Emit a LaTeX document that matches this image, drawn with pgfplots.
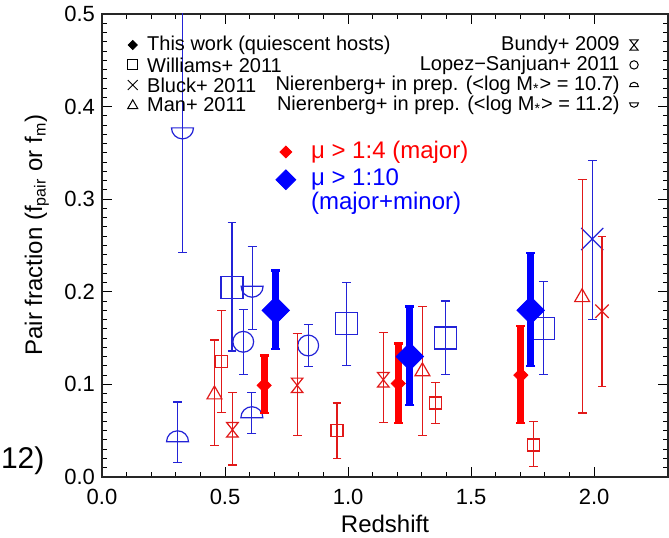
\documentclass[border=0pt]{standalone}
\usepackage{pgfplots}
\pgfplotsset{compat=1.18}
\usepackage{pgfplotstable}
\usepackage{fontspec}
\setmainfont{Liberation Sans}
\definecolor{tred}{RGB}{225,25,25}
\definecolor{tblue}{RGB}{35,35,215}
\definecolor{dred}{RGB}{255,0,0}
\definecolor{dblue}{RGB}{0,0,255}

\pgfdeclareplotmark{dome}{%
  \pgfpathmoveto{\pgfqpoint{-\pgfplotmarksize}{0pt}}%
  \pgfpatharc{180}{0}{\pgfplotmarksize}%
  \pgfpathclose
  \pgfusepathqstroke}
\pgfdeclareplotmark{bowl}{%
  \pgfpathmoveto{\pgfqpoint{-\pgfplotmarksize}{0pt}}%
  \pgfpatharc{180}{360}{\pgfplotmarksize}%
  \pgfpathclose
  \pgfusepathqstroke}
\pgfdeclareplotmark{hourglass}{%
  \pgfpathmoveto{\pgfqpoint{-.8\pgfplotmarksize}{\pgfplotmarksize}}%
  \pgfpathlineto{\pgfqpoint{.8\pgfplotmarksize}{\pgfplotmarksize}}%
  \pgfpathlineto{\pgfqpoint{-.8\pgfplotmarksize}{-\pgfplotmarksize}}%
  \pgfpathlineto{\pgfqpoint{.8\pgfplotmarksize}{-\pgfplotmarksize}}%
  \pgfpathclose
  \pgfusepathqstroke}

% Williams+ 2011, mu>1:10 (blue)
\pgfplotstableread{
z f ep em
0.528 0.205 0.070 0.069
0.995 0.166 0.044 0.046
1.395 0.150 0.040 0.039
1.794 0.160 0.051 0.049
}\williamsblue
% Williams+ 2011, mu>1:4 (red)
\pgfplotstableread{
z f ep em
0.487 0.125 0.055 0.055
0.955 0.050 0.030 0.030
1.355 0.080 0.022 0.022
1.753 0.0345 0.0255 0.0235
}\williamsred
% Lopez-Sanjuan+ 2011 (blue)
\pgfplotstableread{
z f ep em
0.574 0.146 0.035 0.035
0.838 0.142 0.023 0.023
}\lopez
% Bluck+ 2011
\pgfplotstableread{
z f ep em
1.992 0.257 0.085 0.087
}\bluckblue
\pgfplotstableread{
z f ep em
2.032 0.179 0.081 0.081
}\bluckred
% Man+ 2011 (red)
\pgfplotstableread{
z f ep em
0.457 0.089 0.059 0.055
1.302 0.114 0.070 0.069
1.951 0.194 0.127 0.125
}\man
% Bundy+ 2009 (red)
\pgfplotstableread{
z f ep em
0.530 0.051 0.040 0.038
0.793 0.099 0.056 0.054
1.143 0.105 0.051 0.046
}\bundy
% Nierenberg+ in prep, log M = 10.7
\pgfplotstableread{
z f ep em
0.307 0.038 0.043 0.022
0.609 0.064 0.027 0.017
}\nierlow
% Nierenberg+ in prep, log M = 11.2
\pgfplotstableread{
z f ep em
0.327 0.377 0.223 0.135
0.610 0.206 0.043 0.047
}\nierhigh
% This work, mu>1:10
\pgfplotstableread{
z f ep em
0.706 0.180 0.043 0.042
1.251 0.130 0.054 0.052
1.742 0.180 0.062 0.060
}\thisblue
% This work, mu>1:4
\pgfplotstableread{
z f ep em
0.659 0.099 0.032 0.030
1.204 0.101 0.043 0.043
1.702 0.110 0.053 0.052
}\thisred

\begin{document}
\begin{tikzpicture}
\begin{axis}[
  scale only axis,
  width=283pt, height=231.5pt,
  xmin=0, xmax=2.3, ymin=0, ymax=0.5,
  xtick={0,0.5,1,1.5,2}, ytick={0,0.1,0.2,0.3,0.4,0.5},
  minor x tick num=4, minor y tick num=9,
  tick align=inside,
  major tick length=5pt, minor tick length=2.5pt,
  every tick/.style={black, line width=0.5pt},
  axis line style={line width=0.6pt, black!85},
  clip mode=individual,
  tick label style={font=\fontsize{11}{13}\selectfont},
  /pgf/number format/assume math mode=true,
  xticklabel style={/pgf/number format/fixed, /pgf/number format/fixed zerofill, /pgf/number format/precision=1, yshift=-2.5pt},
  yticklabel style={/pgf/number format/fixed, /pgf/number format/fixed zerofill, /pgf/number format/precision=1},
  xlabel={Redshift},
  ylabel={Pair fraction (f\textsubscript{pair} or f\textsubscript{m})},
  every axis x label/.style={at={(axis description cs:0.5,-0.1015)}, anchor=center, font=\fontsize{12}{14}\selectfont},
  every axis y label/.style={at={(axis description cs:-0.115,0.5226)}, rotate=90, anchor=center, font=\fontsize{12}{14}\selectfont},
  thinerr/.style={error bars/.cd, y dir=both, y explicit,
     error bar style={line width=0.6pt},
     error mark options={rotate=90, mark size=2.2pt, line width=0.6pt}},
  thickerr/.style={error bars/.cd, y dir=both, y explicit,
     error bar style={line width=3.5pt},
     error mark options={rotate=90, mark size=2.2pt, line width=1.2pt}},
]
% ---- literature data ----
\addplot[only marks, color=tblue, mark=dome, mark size=5.5pt, line width=0.6pt, thinerr]
  table[x=z, y=f, y error plus=ep, y error minus=em] {\nierlow};
\addplot[only marks, color=tblue, mark=bowl, mark size=5.5pt, line width=0.6pt, thinerr]
  table[x=z, y=f, y error plus=ep, y error minus=em] {\nierhigh};
\addplot[only marks, color=tblue, mark=square, mark size=5.5pt, line width=0.6pt, thinerr]
  table[x=z, y=f, y error plus=ep, y error minus=em] {\williamsblue};
\addplot[only marks, color=tblue, mark=o, mark size=5.2pt, line width=0.6pt, thinerr]
  table[x=z, y=f, y error plus=ep, y error minus=em] {\lopez};
\addplot[only marks, color=tblue, mark=x, mark size=7.8pt, line width=0.6pt, thinerr]
  table[x=z, y=f, y error plus=ep, y error minus=em] {\bluckblue};
\addplot[only marks, color=tred, mark=square, mark size=3pt, line width=0.6pt, thinerr]
  table[x=z, y=f, y error plus=ep, y error minus=em] {\williamsred};
\addplot[only marks, color=tred, mark=triangle, mark size=4.3pt, line width=0.6pt, thinerr]
  table[x=z, y=f, y error plus=ep, y error minus=em] {\man};
\addplot[only marks, color=tred, mark=hourglass, mark size=3.6pt, line width=0.6pt, thinerr]
  table[x=z, y=f, y error plus=ep, y error minus=em] {\bundy};
\addplot[only marks, color=tred, mark=x, mark size=4.7pt, line width=0.6pt, thinerr]
  table[x=z, y=f, y error plus=ep, y error minus=em] {\bluckred};
% ---- this work ----
\addplot[only marks, color=dred, mark=square*, mark size=2.5pt, mark options={rotate=45}, thickerr]
  table[x=z, y=f, y error plus=ep, y error minus=em] {\thisred};
\addplot[only marks, color=dblue, mark=square*, mark size=4.85pt, mark options={rotate=45}, thickerr]
  table[x=z, y=f, y error plus=ep, y error minus=em] {\thisblue};

% ---- legend symbols ----
\addplot[forget plot, only marks, black, mark=square*, mark size=1.6pt, mark options={rotate=45}] coordinates {(0.125,0.4665)};
\addplot[forget plot, only marks, black, mark=square, mark size=2.5pt, line width=0.5pt] coordinates {(0.125,0.4450)};
\addplot[forget plot, only marks, black, mark=x, mark size=3.5pt, line width=0.5pt] coordinates {(0.125,0.4233)};
\addplot[forget plot, only marks, black, mark=triangle, mark size=2.9pt, line width=0.5pt] coordinates {(0.125,0.4010)};
\addplot[forget plot, only marks, black, mark=hourglass, mark size=2.6pt, line width=0.5pt] coordinates {(2.162,0.4665)};
\addplot[forget plot, only marks, black, mark=o, mark size=2.1pt, line width=0.5pt] coordinates {(2.162,0.4450)};
\addplot[forget plot, only marks, black, mark=dome, mark size=2.2pt, line width=0.5pt] coordinates {(2.162,0.4215)};
\addplot[forget plot, only marks, black, mark=bowl, mark size=2.2pt, line width=0.5pt] coordinates {(2.162,0.4040)};
\addplot[forget plot, only marks, dred, mark=square*, mark size=2.1pt, mark options={rotate=45}] coordinates {(0.747,0.351)};
\addplot[forget plot, only marks, dblue, mark=square*, mark size=3.5pt, mark options={rotate=45}] coordinates {(0.747,0.321)};

\begin{scope}[font=\fontsize{10}{12}\selectfont]
\node[anchor=west, inner sep=0pt] at (axis cs:0.182,0.4665) {This work (quiescent hosts)};
\node[anchor=west, inner sep=0pt] at (axis cs:0.182,0.4450) {Williams+ 2011};
\node[anchor=west, inner sep=0pt] at (axis cs:0.182,0.4233) {Bluck+ 2011};
\node[anchor=west, inner sep=0pt] at (axis cs:0.182,0.4017) {Man+ 2011};
\node[anchor=east, inner sep=0pt] at (axis cs:2.105,0.4665) {Bundy+ 2009};
\node[anchor=east, inner sep=0pt] at (axis cs:2.105,0.4450) {Lopez−Sanjuan+ 2011};
\node[anchor=east, inner sep=0pt] at (axis cs:2.105,0.4233) {Nierenberg+ in prep. (<log M\textsubscript{*}> = 10.7)};
\node[anchor=east, inner sep=0pt] at (axis cs:2.105,0.4017) {Nierenberg+ in prep. (<log M\textsubscript{*}> = 11.2)};
\end{scope}
\node[anchor=west, inner sep=0pt, text=dred, font=\fontsize{12}{14}\selectfont] at (axis cs:0.848,0.351) {μ > 1:4 (major)};
\node[anchor=north west, inner sep=0pt, text=dblue, align=left, font=\fontsize{12}{10.3}\selectfont] at (axis cs:0.848,0.3335) {μ > 1:10\\(major+minor)};
\node[anchor=west, inner sep=0pt, font=\fontsize{15}{18}\selectfont] at (axis cs:-0.412,0.0173) {12)};
\end{axis}
\pgfresetboundingbox
\path[use as bounding box] ([shift={(-51pt,-30.5pt)}]current axis.south west) rectangle ([shift={(0.5pt,7pt)}]current axis.north east);
\end{tikzpicture}
\end{document}
